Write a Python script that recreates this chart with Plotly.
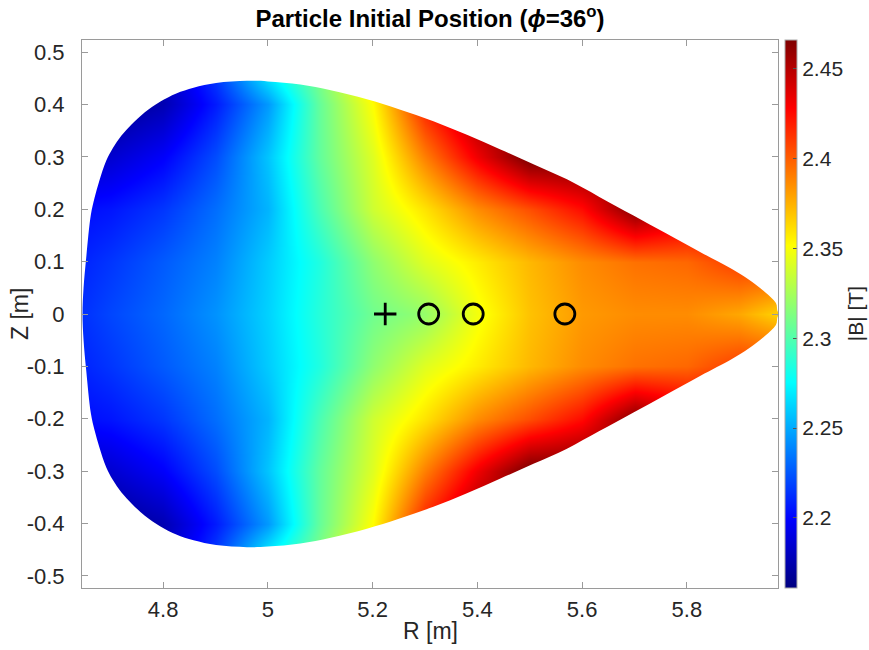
import plotly.graph_objects as go

# ---------------- data ----------------
# |B| [T] sampled on an R-Z grid (upper half, mirrored for Z<0)
R_grid = [4.60, 4.70, 4.80, 4.90, 5.00, 5.10, 5.20, 5.30, 5.40, 5.50, 5.60, 5.70, 5.80, 5.90, 6.00]
Z_half = [0.0, 0.1, 0.2, 0.3, 0.4, 0.5]
B_z00 = [2.208, 2.220, 2.230, 2.243, 2.262, 2.287, 2.309, 2.320, 2.348, 2.370, 2.382, 2.386, 2.386, 2.378, 2.360]
B_z01 = [2.205, 2.215, 2.226, 2.238, 2.260, 2.285, 2.318, 2.342, 2.357, 2.373, 2.386, 2.394, 2.397, 2.410, 2.410]
B_z02 = [2.200, 2.205, 2.215, 2.232, 2.253, 2.298, 2.337, 2.360, 2.386, 2.405, 2.425, 2.465, 2.442, 2.440, 2.440]
B_z03 = [2.180, 2.185, 2.198, 2.222, 2.258, 2.305, 2.342, 2.390, 2.432, 2.470, 2.470, 2.460, 2.450, 2.440, 2.440]
B_z04 = [2.165, 2.165, 2.176, 2.207, 2.245, 2.306, 2.352, 2.420, 2.460, 2.470, 2.470, 2.470, 2.460, 2.450, 2.440]
B_z05 = [2.165, 2.165, 2.180, 2.225, 2.290, 2.320, 2.380, 2.450, 2.470, 2.470, 2.470, 2.470, 2.470, 2.460, 2.450]

# plasma boundary (upper half, from outboard tip to inboard midplane)
bnd_R = [5.977, 5.970, 5.950, 5.918, 5.886, 5.826, 5.760, 5.698, 5.632, 5.571, 5.507, 5.444,
         5.380, 5.316, 5.250, 5.189, 5.120, 5.062, 5.000, 4.960, 4.901, 4.858, 4.825, 4.794,
         4.765, 4.740, 4.720, 4.704, 4.691, 4.678, 4.669, 4.662, 4.653, 4.648, 4.646]
bnd_Z = [0.000, 0.021, 0.041, 0.066, 0.086, 0.118, 0.154, 0.188, 0.224, 0.257, 0.286, 0.314,
         0.342, 0.368, 0.391, 0.410, 0.427, 0.438, 0.444, 0.445, 0.441, 0.432, 0.421, 0.405,
         0.385, 0.362, 0.340, 0.317, 0.292, 0.254, 0.222, 0.190, 0.107, 0.050, 0.000]

# particle positions
axis_R, axis_Z = [5.224], [0.0]
part_R = [5.307, 5.392, 5.567]
part_Z = [0.0, 0.0, 0.0]

cmin, cmax = 2.161, 2.466
cb_ticks = [2.2, 2.25, 2.3, 2.35, 2.4, 2.45]
x_ticks = [4.8, 5.0, 5.2, 5.4, 5.6, 5.8]
x_ticktext = ["4.8", "5", "5.2", "5.4", "5.6", "5.8"]
y_ticks = [-0.5, -0.4, -0.3, -0.2, -0.1, 0, 0.1, 0.2, 0.3, 0.4, 0.5]
y_ticktext = ["-0.5", "-0.4", "-0.3", "-0.2", "-0.1", "0", "0.1", "0.2", "0.3", "0.4", "0.5"]

# ---------------- build ----------------
half_rows = [B_z00, B_z01, B_z02, B_z03, B_z04, B_z05]
Z_all = [-z for z in Z_half[:0:-1]] + Z_half
B_all = half_rows[:0:-1] + half_rows

jet = [[0.0, "rgb(0,0,128)"], [0.125, "rgb(0,0,255)"], [0.375, "rgb(0,255,255)"],
       [0.625, "rgb(255,255,0)"], [0.875, "rgb(255,0,0)"], [1.0, "rgb(128,0,0)"]]

font_fam = "Liberation Sans, Arial, Helvetica, sans-serif"
txt_col = "#262626"
tick_size = 22

fig = go.Figure()
fig.add_trace(go.Heatmap(
    x=R_grid, y=Z_all, z=B_all, zmin=cmin, zmax=cmax, colorscale=jet,
    zsmooth="best", hoverinfo="skip",
    colorbar=dict(x=1.0101, xanchor="left", xpad=0, ypad=0, y=0.5, yanchor="middle",
                  len=1.0, lenmode="fraction", thickness=12,
                  tickvals=cb_ticks, ticktext=[f"{t:g}" for t in cb_ticks],
                  ticks="inside", ticklen=4, tickcolor="#555555",
                  outlinewidth=1, outlinecolor="#aaaaaa",
                  tickfont=dict(family=font_fam, size=21, color=txt_col)),
))

# white mask outside the boundary (smoothed outline)
loop_R = bnd_R + bnd_R[-2::-1]
loop_Z = bnd_Z + [-z for z in bnd_Z[-2::-1]]
mask_R = loop_R + [6.2, 6.2, 4.4, 4.4, 6.2, 6.2, loop_R[0]]
mask_Z = loop_Z + [0.0, -0.8, -0.8, 0.8, 0.8, 0.0, loop_Z[0]]
fig.add_trace(go.Scatter(x=mask_R, y=mask_Z, mode="lines", fill="toself",
                         fillcolor="white", line=dict(width=0, color="white", shape="spline", smoothing=1.0),
                         hoverinfo="skip", showlegend=False))

fig.add_trace(go.Scatter(x=axis_R, y=axis_Z, mode="markers", showlegend=False,
                         marker=dict(symbol="cross-thin", size=16,
                                     line=dict(width=2.8, color="black"))))
fig.add_trace(go.Scatter(x=part_R, y=part_Z, mode="markers", showlegend=False,
                         marker=dict(symbol="circle-open", size=20, color="black",
                                     line=dict(width=2.8, color="black"))))

axis_common = dict(showgrid=False, zeroline=False, showline=True, mirror="ticks",
                   linecolor="#9a9a9a", linewidth=1, ticks="inside", ticklen=6, automargin=False,
                   tickcolor="#9a9a9a", tickfont=dict(family=font_fam, size=tick_size, color=txt_col))

fig.update_layout(
    width=869, height=650, plot_bgcolor="white", paper_bgcolor="white",
    margin=dict(l=82, r=91, t=40, b=62, autoexpand=False),
    title=dict(text="<b>Particle Initial Position (<i>ϕ</i>=36<sup>o</sup>)</b>",
               x=0.5, xref="paper", xanchor="center", y=0.972, yanchor="middle",
               font=dict(family=font_fam, size=24, color="black")),
    xaxis=dict(range=[4.645, 5.974], tickvals=x_ticks, ticktext=x_ticktext, ticklabelstandoff=2,
               **axis_common),
    yaxis=dict(range=[-0.523, 0.523], tickvals=y_ticks, ticktext=y_ticktext, ticklabelstandoff=12,
               **axis_common),
    annotations=[
        dict(text="R [m]", xref="paper", yref="paper", x=0.5, y=-0.078,
             showarrow=False, xanchor="center", yanchor="middle",
             font=dict(family=font_fam, size=23, color=txt_col)),
        dict(text="Z [m]", xref="paper", yref="paper", x=-0.0891, y=0.5, textangle=-90,
             showarrow=False, xanchor="center", yanchor="middle",
             font=dict(family=font_fam, size=23, color=txt_col)),
        dict(text="|B| [T]", xref="paper", yref="paper", x=1.111, y=0.5,
             textangle=-90, showarrow=False, xanchor="center", yanchor="middle",
             font=dict(family=font_fam, size=21, color=txt_col)),
    ],
)

fig.write_html("out.html")
